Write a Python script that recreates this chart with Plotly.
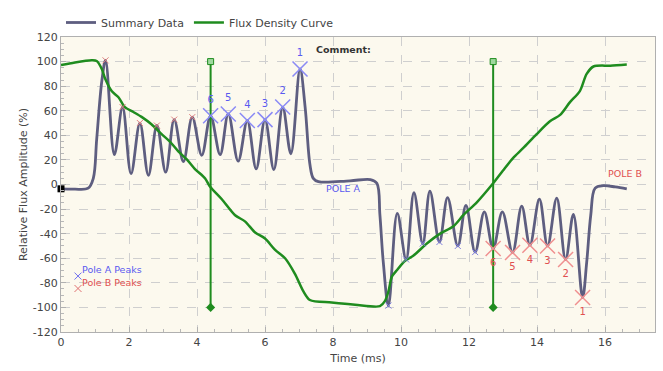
import plotly.graph_objects as go

# ---- data ----
summary_t = [0.0, 0.4, 0.8, 0.95, 1.05, 1.2, 1.31, 1.57, 1.81, 2.06, 2.32, 2.57, 2.82, 3.08, 3.33, 3.6, 3.86,
             4.14, 4.40, 4.68, 4.92, 5.21, 5.48, 5.74, 6.0, 6.26, 6.52, 6.76, 7.03, 7.18, 7.32, 7.42, 7.57,
             8.5, 9.1, 9.29, 9.38, 9.48, 9.63, 9.89, 10.15, 10.38, 10.64, 10.85, 11.13, 11.37, 11.67, 11.91,
             12.18, 12.45, 12.71, 12.98, 13.28, 13.55, 13.79, 14.07, 14.31, 14.58, 14.84, 15.07, 15.34, 15.46,
             15.58, 15.71, 15.95, 16.3, 16.64]
summary_v = [-3.5, -3.8, -3.0, 5, 37, 84, 101, 24.3, 63, 8.8, 50, 7.5, 48, 10, 52.8, 18.6, 54.8,
             23.8, 55.9, 24.3, 57.4, 19, 52, 12.7, 52.8, 12.2, 63, 25, 94, 63, 16.5, 5, 2.3,
             3, 4, 1, -25, -63.6, -98.5, -23.5, -61, -6.7, -48, -5.4, -46.8, -10.6, -50, -17,
             -55, -22.3, -52, -22.3, -55.3, -17.6, -49.4, -11.9, -50, -11.1, -61, -24.3, -92, -63.6,
             -25, -2.9, -1, -2, -3.6]

flux_t = [0.0, 0.41, 0.9, 1.05, 1.2, 1.30, 1.49, 1.69, 1.88, 2.13, 2.37, 2.66, 2.96, 3.21, 3.45, 3.70, 3.94,
          4.24, 4.38, 4.73, 5.12, 5.41, 5.71, 6.0, 6.29, 6.59, 6.88, 7.13, 7.32, 7.96, 8.65, 9.38, 9.53,
          9.63, 9.73, 9.87, 10.12, 10.36, 10.76, 11.15, 11.54, 11.83, 12.23, 12.71, 13.0, 13.3, 13.59,
          13.99, 14.38, 14.68, 14.97, 15.26, 15.46, 15.66, 16.15, 16.64]
flux_v = [97.2, 99.3, 101, 100.5, 94, 86, 76, 71, 63, 59, 55, 49, 41, 34.7, 27, 20.4, 12.6,
          4.9, -1.6, -12, -25, -30, -39, -44, -53, -60, -72.7, -87, -94, -96, -97.8, -99, -94.7,
          -87, -75, -70, -62, -58, -48, -40, -34, -25, -14.5, 1, 11.4, 21.7, 29.5,
          41, 51.4, 56.6, 67, 76, 90, 96, 96.7, 97.7]

poleA_t = [7.03, 6.52, 6.0, 5.48, 4.92, 4.40]
poleA_v = [94, 63, 52.8, 52, 57.4, 55.9]
poleA_lbl = ["1", "2", "3", "4", "5", "6"]

poleB_t = [15.34, 14.84, 14.31, 13.79, 13.28, 12.71]
poleB_v = [-92, -61, -50, -49.4, -55.3, -52]
poleB_lbl = ["1", "2", "3", "4", "5", "6"]

smallB_t = [1.31, 1.81, 2.32, 2.82, 3.33, 3.86]
smallB_v = [101, 63, 50, 48, 52.8, 54.8]
smallA_t = [9.63, 10.15, 10.64, 11.13, 11.67, 12.18]
smallA_v = [-98.5, -61, -48, -46.8, -50, -55]

cursor_t = [4.40, 12.71]
cursor_top = 100
cursor_bottom = -100

x_ticks = [0, 2, 4, 6, 8, 10, 12, 14, 16]
y_ticks = [-120, -100, -80, -60, -40, -20, 0, 20, 40, 60, 80, 100, 120]

BLUE = "#5a5af0"
RED = "#e05050"
SUM_COL = "#5e5e80"
GREEN = "#1f8c1f"
FONT = "DejaVu Sans"

fig = go.Figure()

fig.add_trace(go.Scatter(x=summary_t, y=summary_v, mode="lines", name="Summary Data",
                         line=dict(color=SUM_COL, width=2.8, shape="spline", smoothing=1.0)))
fig.add_trace(go.Scatter(x=flux_t, y=flux_v, mode="lines", name="Flux Density Curve",
                         line=dict(color=GREEN, width=2.5, shape="spline", smoothing=0.8)))

# cursor lines
for ct in cursor_t:
    fig.add_trace(go.Scatter(x=[ct, ct], y=[cursor_top, cursor_bottom], mode="lines",
                             line=dict(color=GREEN, width=2), showlegend=False, hoverinfo="skip"))
    fig.add_trace(go.Scatter(x=[ct], y=[cursor_top], mode="markers", showlegend=False,
                             marker=dict(symbol="square", size=6, color="#9fd89f",
                                         line=dict(color=GREEN, width=1))))
    fig.add_trace(go.Scatter(x=[ct], y=[cursor_bottom], mode="markers", showlegend=False,
                             marker=dict(symbol="diamond", size=7, color=GREEN)))

# small peak markers
fig.add_trace(go.Scatter(x=smallB_t, y=smallB_v, mode="markers", showlegend=False,
                         marker=dict(symbol="x-thin", size=6, line=dict(color="#e08080", width=1))))
fig.add_trace(go.Scatter(x=smallA_t, y=smallA_v, mode="markers", showlegend=False,
                         marker=dict(symbol="x-thin", size=6, line=dict(color="#8080e0", width=1))))

# big labelled peak markers
fig.add_trace(go.Scatter(x=poleA_t, y=poleA_v, mode="markers+text", showlegend=False,
                         text=poleA_lbl, textposition="top center",
                         textfont=dict(family=FONT, size=10, color=BLUE),
                         marker=dict(symbol="x-thin", size=15, line=dict(color="#8a8af5", width=1.5))))
fig.add_trace(go.Scatter(x=poleB_t, y=poleB_v, mode="markers+text", showlegend=False,
                         text=poleB_lbl, textposition="bottom center",
                         textfont=dict(family=FONT, size=10, color=RED),
                         marker=dict(symbol="x-thin", size=15, line=dict(color="#f09090", width=1.5))))

# legend-like markers inside the plot
fig.add_trace(go.Scatter(x=[0.5], y=[-74.5], mode="markers", showlegend=False,
                         marker=dict(symbol="x-thin", size=7, line=dict(color="#7070f0", width=1))))
fig.add_trace(go.Scatter(x=[0.5], y=[-84.6], mode="markers", showlegend=False,
                         marker=dict(symbol="x-thin", size=7, line=dict(color="#e07070", width=1))))

# black start marker
fig.add_trace(go.Scatter(x=[0], y=[-3.5], mode="markers", showlegend=False, cliponaxis=False,
                         marker=dict(symbol="square", size=7, color="black")))

ann = [
    dict(x=0.55, y=-69.5, text="Pole A Peaks", color=BLUE, xanchor="left"),
    dict(x=0.55, y=-79.5, text="Pole B Peaks", color=RED, xanchor="left"),
    dict(x=8.3, y=-3, text="POLE A", color=BLUE, xanchor="center"),
    dict(x=16.6, y=9, text="POLE B", color=RED, xanchor="center"),
    dict(x=8.3, y=110, text="<b>Comment:</b>", color="#333333", xanchor="center"),
]
for a in ann:
    fig.add_annotation(x=a["x"], y=a["y"], text=a["text"], showarrow=False, xanchor=a["xanchor"],
                       yanchor="middle", font=dict(family=FONT, size=9.5, color=a["color"]))

axis_common = dict(showline=True, linecolor="#b0b0b0", linewidth=1, mirror=True,
                   showgrid=True, gridcolor="#cfcfcf", griddash="dash", gridwidth=1,
                   ticks="inside", ticklen=5, tickcolor="#b0b0b0", zeroline=False,
                   tickfont=dict(family=FONT, size=11, color="#444444"))

fig.update_xaxes(range=[0, 17.47], tickvals=x_ticks, ticktext=[str(v) for v in x_ticks],
                 title=dict(text="Time (ms)", font=dict(family=FONT, size=11, color="#444444"), standoff=6),
                 minor=dict(dtick=0.5, ticks="inside", ticklen=3, tickcolor="#b8b8b8", showgrid=False),
                 **axis_common)
fig.update_yaxes(range=[-120, 120], tickvals=y_ticks, ticktext=[str(v) for v in y_ticks],
                 title=dict(text="Relative Flux Amplitude (%)", font=dict(family=FONT, size=11, color="#444444"), standoff=2),
                 minor=dict(dtick=5, ticks="inside", ticklen=3, tickcolor="#b8b8b8", showgrid=False),
                 **axis_common)

fig.update_layout(
    width=663, height=371,
    margin=dict(l=61, r=8, t=23, b=39),
    paper_bgcolor="white", plot_bgcolor="#fcf9ee",
    font=dict(family=FONT, size=11, color="#444444"),
    showlegend=True,
    legend=dict(orientation="h", x=0.0, xanchor="left", y=1.0, yanchor="bottom",
                font=dict(family=FONT, size=11, color="#444444"), bgcolor="rgba(0,0,0,0)",
                itemwidth=30, tracegroupgap=0),
)

fig.write_html("out.html")
